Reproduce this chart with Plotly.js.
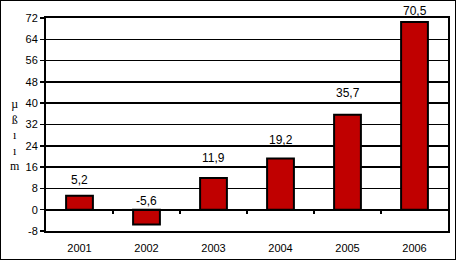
<!DOCTYPE html>
<html><head><meta charset="utf-8">
<script src="https://cdn.plot.ly/plotly-3.0.1.min.js"></script>
<style>
html,body{margin:0;padding:0;background:#fff;}
#wrap{position:relative;width:456px;height:260px;}
#chart{width:456px;height:260px;}
#frame{position:absolute;left:0;top:0;width:456px;height:260px;box-sizing:border-box;border:1px solid #000;pointer-events:none;}
</style></head>
<body>
<div id="wrap"><div id="chart"></div><div id="frame"></div></div>
<script>
const years = ['2001','2002','2003','2004','2005','2006'];
const values = [5.2, -5.6, 11.9, 19.2, 35.7, 70.5];
const labels = ['5,2','-5,6','11,9','19,2','35,7','70,5'];
const yTicks = [-8,0,8,16,24,32,40,48,56,64,72];
const yTitleChars = ['µ','ß','ı','ı','m'];

// label offsets (style only), in pixels above bar top / zero line
const labelShift = [16, 9, 20, 19, 22, 11];

const xIdx = years.map((_, i) => i);

const bars = {
  type: 'bar', x: xIdx, y: values,
  marker: {color: '#c00000', line: {color: '#000', width: 2}},
  width: 0.4, hoverinfo: 'none', xaxis: 'x', yaxis: 'y'
};
const dummy = {type: 'scatter', x: [0], y: [0], xaxis: 'x2', yaxis: 'y', mode: 'markers', marker: {opacity: 0}, hoverinfo: 'none'};

const annotations = xIdx.map((i) => ({
  xref: 'x', yref: 'y', x: i, y: Math.max(values[i], 0),
  text: labels[i], showarrow: false, xanchor: 'center', yanchor: 'middle',
  yshift: labelShift[i],
  font: {family: 'Liberation Sans, Arial, sans-serif', size: 12, color: '#000'}
}));
annotations.push({
  xref: 'paper', yref: 'paper', x: -0.077, y: 0.45, xanchor: 'center', yanchor: 'middle',
  text: yTitleChars.join('<br>'), showarrow: false,
  font: {family: 'Liberation Serif, Times New Roman, serif', size: 12, color: '#000'}
});

const layout = {
  width: 456, height: 260,
  margin: {l: 46, r: 8, t: 18, b: 29},
  paper_bgcolor: '#fff', plot_bgcolor: '#fff',
  showlegend: false,
  xaxis: {
    range: [-0.5, 5.5], tickvals: xIdx, ticktext: years,
    showgrid: false, zeroline: false, ticks: '', ticklabelstandoff: 6,
    showline: true, linecolor: '#000', linewidth: 2, mirror: true,
    tickfont: {family: 'Liberation Sans, Arial, sans-serif', size: 11, color: '#000'},
    fixedrange: true
  },
  xaxis2: {
    overlaying: 'x', anchor: 'free', position: 0.1, side: 'bottom',
    range: [-0.5, 5.5], tickvals: [0.5,1.5,2.5,3.5,4.5],
    ticks: 'outside', ticklen: 3, tickwidth: 2, tickcolor: '#000',
    showticklabels: false, showgrid: false, zeroline: false,
    showline: true, linecolor: '#000', linewidth: 2
  },
  yaxis: {
    range: [-8, 72], tickvals: yTicks, ticktext: yTicks.map(String),
    showgrid: true, gridcolor: '#000', gridwidth: 1.5,
    zeroline: false, ticks: 'outside', ticklen: 4, tickwidth: 1.5, tickcolor: '#000',
    showline: true, linecolor: '#000', linewidth: 2, mirror: true,
    tickfont: {family: 'Liberation Sans, Arial, sans-serif', size: 11, color: '#000'},
    fixedrange: true
  },
  annotations: annotations
};
Plotly.newPlot('chart', [bars, dummy], layout, {staticPlot: true});
</script>
</body></html>
